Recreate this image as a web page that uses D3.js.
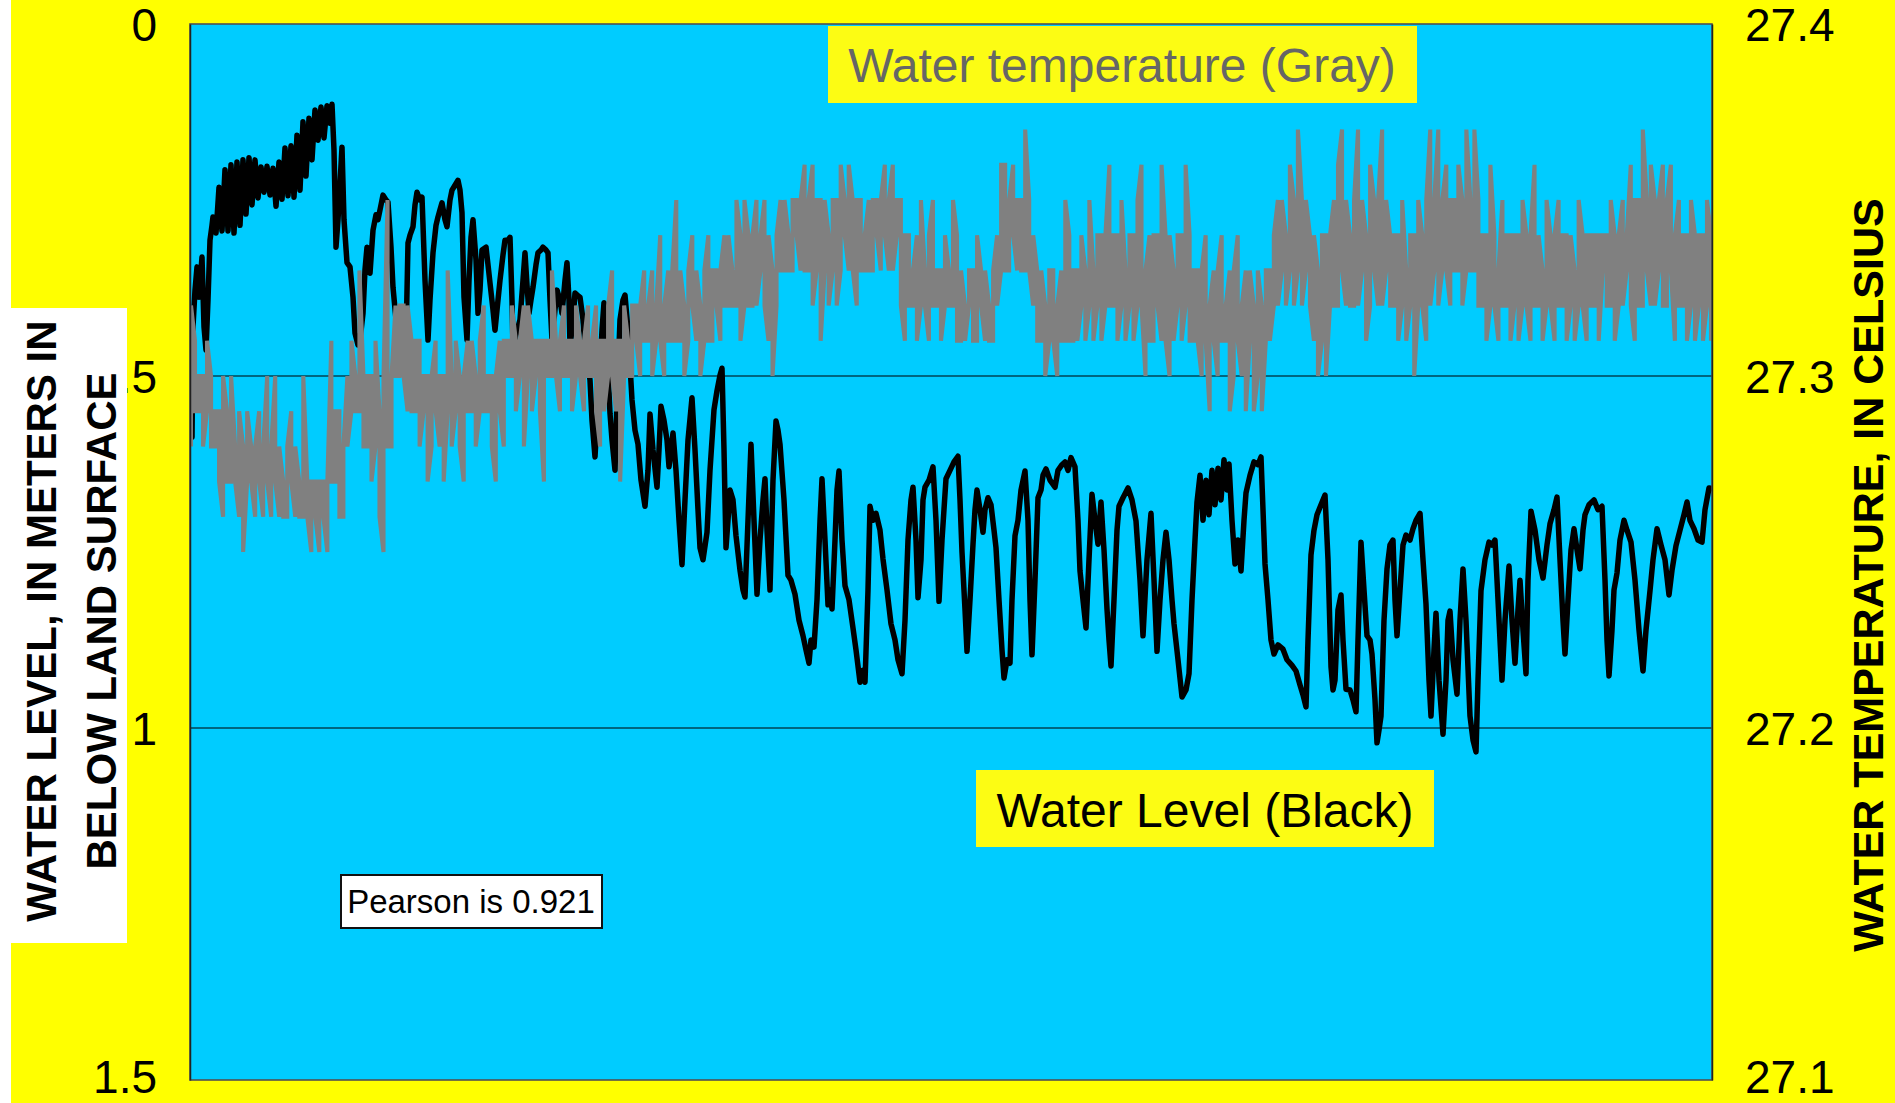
<!DOCTYPE html>
<html><head><meta charset="utf-8">
<script src="https://cdn.jsdelivr.net/npm/d3@7"></script>
<style>html,body{margin:0;padding:0;background:#ffff00;overflow:hidden}</style>
</head><body><svg id="chart" width="1895" height="1103"></svg>
<script>
// ---------- data ----------
const depthTicks = [0, 0.5, 1, 1.5];
const depthTickLabels = ["0", ".5", "1", "1.5"];
const tempTicks = [27.1, 27.2, 27.3, 27.4];
const tempTickLabels = ["27.1", "27.2", "27.3", "27.4"];
const gridDepths = [0.5, 1];
const leftTitle = ["WATER LEVEL, IN METERS IN", "BELOW LAND SURFACE"];
const rightTitle = "WATER TEMPERATURE, IN CELSIUS";
const tempLegend = "Water temperature (Gray)";
const levelLegend = "Water Level (Black)";
const pearsonLabel = "Pearson is 0.921";

// water level: [day of record, metres below land surface]
const waterLevel = [
[0.0,0.577],[0.2,0.587],[0.3,0.430],[0.5,0.378],[0.7,0.345],[0.9,0.388],[1.2,0.331],[1.4,0.430],[1.6,0.463],[1.8,0.392],[2.0,0.307],[2.2,0.286],
[2.3,0.274],[2.6,0.297],[2.9,0.232],[3.2,0.294],[3.5,0.207],[3.8,0.294],[4.1,0.200],[4.4,0.297],[4.7,0.196],[5.0,0.286],[5.3,0.193],[5.6,0.270],
[5.9,0.190],[6.2,0.257],[6.5,0.193],[6.8,0.247],[7.1,0.203],[7.4,0.239],[7.7,0.202],[8.0,0.243],[8.3,0.205],[8.6,0.259],[8.9,0.196],[9.2,0.249],
[9.5,0.176],[9.8,0.244],[10.1,0.173],[10.4,0.246],[10.7,0.158],[11.0,0.236],[11.3,0.139],[11.6,0.216],[11.9,0.134],[12.2,0.193],[12.5,0.122],
[12.8,0.165],[13.1,0.118],[13.4,0.162],[13.7,0.116],[14.0,0.141],[14.2,0.114],[14.4,0.179],[14.6,0.317],[14.8,0.278],[15.2,0.175],[15.4,0.278],
[15.7,0.339],[16.0,0.345],[16.3,0.388],[16.5,0.439],[16.8,0.456],[17.0,0.449],[17.3,0.411],[17.5,0.349],[17.7,0.317],[18.0,0.354],[18.3,0.293],
[18.6,0.271],[18.8,0.278],[19.1,0.257],[19.3,0.243],[19.6,0.250],[19.8,0.253],[20.1,0.317],[20.3,0.374],[20.6,0.420],[21.0,0.449],[21.3,0.456],
[21.6,0.449],[21.8,0.311],[22.0,0.300],[22.3,0.288],[22.5,0.257],[22.7,0.239],[23.0,0.250],[23.2,0.246],[23.5,0.364],[23.8,0.449],[24.0,0.392],
[24.3,0.325],[24.6,0.286],[24.8,0.274],[25.0,0.264],[25.2,0.254],[25.5,0.278],[25.7,0.288],[26.0,0.250],[26.2,0.236],[26.5,0.229],[26.8,0.222],
[27.0,0.236],[27.2,0.268],[27.4,0.388],[27.7,0.449],[27.9,0.364],[28.1,0.303],[28.3,0.278],[28.6,0.335],[28.8,0.411],[29.0,0.378],[29.2,0.321],
[29.6,0.317],[29.8,0.342],[30.0,0.368],[30.3,0.406],[30.5,0.435],[30.8,0.392],[31.0,0.364],[31.3,0.328],[31.5,0.307],[31.8,0.307],[32.0,0.303],
[32.2,0.392],[32.3,0.459],[32.6,0.442],[33.0,0.420],[33.3,0.364],[33.5,0.325],[33.7,0.371],[33.9,0.411],[34.1,0.392],[34.3,0.374],[34.6,0.342],
[34.8,0.325],[35.1,0.321],[35.3,0.317],[35.6,0.321],[35.8,0.325],[36.0,0.392],[36.2,0.449],[36.5,0.406],[36.7,0.378],[37.0,0.392],[37.2,0.411],
[37.5,0.364],[37.7,0.339],[37.9,0.392],[38.0,0.459],[38.3,0.420],[38.5,0.382],[38.8,0.386],[39.0,0.388],[39.3,0.420],[39.5,0.459],[39.8,0.484],
[40.0,0.506],[40.2,0.563],[40.5,0.615],[40.7,0.563],[41.0,0.491],[41.2,0.435],[41.4,0.396],[41.7,0.463],[42.0,0.553],[42.2,0.591],[42.5,0.634],
[42.7,0.534],[43.0,0.420],[43.3,0.392],[43.5,0.385],[43.8,0.435],[44.2,0.534],[44.5,0.577],[44.8,0.597],[45.1,0.648],[45.5,0.685],[45.8,0.634],
[46.0,0.554],[46.3,0.605],[46.7,0.658],[46.9,0.605],[47.1,0.543],[47.4,0.563],[47.7,0.591],[47.9,0.629],[48.1,0.605],[48.3,0.581],[48.6,0.634],
[48.9,0.705],[49.2,0.768],[49.5,0.676],[49.8,0.591],[50.2,0.531],[50.5,0.605],[50.8,0.690],[51.0,0.744],[51.3,0.761],[51.7,0.722],[52.0,0.634],
[52.4,0.548],[52.7,0.521],[53.0,0.499],[53.2,0.489],[53.4,0.605],[53.6,0.744],[53.8,0.705],[54.0,0.662],[54.3,0.676],[54.6,0.727],[55.0,0.776],
[55.3,0.804],[55.5,0.814],[55.8,0.705],[56.1,0.597],[56.4,0.705],[56.7,0.810],[57.0,0.733],[57.3,0.676],[57.5,0.646],[57.7,0.719],[58.0,0.804],
[58.3,0.648],[58.6,0.564],[58.8,0.577],[59.0,0.597],[59.4,0.676],[59.8,0.783],[60.1,0.790],[60.5,0.810],[60.9,0.847],[61.3,0.869],[61.6,0.889],
[61.9,0.908],[62.1,0.875],[62.4,0.885],[62.7,0.818],[63.0,0.706],[63.2,0.646],[63.5,0.733],[63.8,0.825],[64.0,0.804],[64.2,0.831],[64.5,0.733],
[64.7,0.662],[64.9,0.635],[65.2,0.733],[65.5,0.798],[65.9,0.818],[66.3,0.858],[66.6,0.889],[67.0,0.935],[67.3,0.918],[67.5,0.935],[67.8,0.804],
[68.0,0.685],[68.3,0.705],[68.6,0.695],[69.0,0.719],[69.3,0.760],[69.7,0.804],[70.1,0.852],[70.5,0.875],[70.8,0.903],[71.2,0.923],[71.5,0.847],
[71.8,0.733],[72.1,0.676],[72.3,0.658],[72.6,0.733],[72.8,0.815],[73.1,0.761],[73.3,0.676],[73.5,0.658],[73.9,0.648],[74.3,0.629],[74.6,0.705],
[74.9,0.820],[75.2,0.733],[75.6,0.646],[76.0,0.634],[76.4,0.622],[76.8,0.614],[77.0,0.676],[77.2,0.750],[77.5,0.832],[77.7,0.891],[78.0,0.818],
[78.3,0.739],[78.5,0.690],[78.7,0.662],[79.0,0.690],[79.3,0.722],[79.5,0.690],[79.8,0.673],[80.1,0.683],[80.4,0.719],[80.6,0.744],[80.9,0.818],
[81.2,0.889],[81.4,0.929],[81.7,0.903],[82.0,0.908],[82.2,0.818],[82.5,0.727],[82.8,0.705],[83.1,0.662],[83.5,0.635],[83.8,0.705],[84.0,0.818],
[84.2,0.896],[84.5,0.790],[84.8,0.673],[85.1,0.662],[85.3,0.641],[85.6,0.632],[86.0,0.648],[86.5,0.658],[86.8,0.634],[87.2,0.626],[87.5,0.622],
[87.8,0.634],[88.1,0.616],[88.5,0.629],[88.8,0.705],[89.0,0.777],[89.3,0.818],[89.6,0.858],[89.9,0.761],[90.2,0.668],[90.5,0.705],[90.8,0.739],
[91.1,0.679],[91.4,0.747],[91.7,0.831],[91.9,0.875],[92.1,0.912],[92.4,0.818],[92.7,0.719],[92.9,0.685],[93.3,0.673],[93.8,0.659],[94.2,0.676],
[94.6,0.706],[95.0,0.790],[95.3,0.869],[95.7,0.761],[96.1,0.695],[96.4,0.790],[96.7,0.891],[97.0,0.818],[97.3,0.761],[97.6,0.722],[97.9,0.761],
[98.2,0.818],[98.4,0.852],[98.8,0.903],[99.2,0.956],[99.6,0.946],[99.9,0.923],[100.2,0.818],[100.5,0.733],[100.7,0.679],[101.0,0.641],
[101.3,0.705],[101.6,0.648],[101.9,0.697],[102.2,0.634],[102.5,0.683],[102.8,0.631],[103.1,0.676],[103.4,0.619],[103.7,0.662],[103.9,0.625],
[104.2,0.705],[104.5,0.767],[104.8,0.733],[105.1,0.777],[105.4,0.705],[105.6,0.666],[106.0,0.641],[106.4,0.622],[106.8,0.626],[107.1,0.615],
[107.3,0.690],[107.5,0.767],[107.8,0.818],[108.1,0.875],[108.4,0.895],[108.8,0.882],[109.3,0.888],[109.7,0.903],[110.2,0.911],[110.6,0.919],
[111.0,0.939],[111.3,0.953],[111.6,0.970],[111.8,0.875],[112.1,0.754],[112.4,0.719],[112.7,0.697],[113.1,0.683],[113.5,0.669],[113.8,0.761],
[114.1,0.913],[114.3,0.946],[114.5,0.932],[114.8,0.832],[115.1,0.811],[115.3,0.875],[115.6,0.945],[116.0,0.946],[116.3,0.960],[116.6,0.977],
[116.8,0.875],[117.1,0.736],[117.4,0.804],[117.7,0.869],[118.0,0.875],[118.2,0.895],[118.5,0.960],[118.7,1.021],[118.9,1.003],[119.1,0.983],
[119.4,0.847],[119.7,0.774],[120.0,0.740],[120.3,0.733],[120.5,0.818],[120.7,0.869],[121.0,0.804],[121.3,0.740],[121.6,0.726],[122.0,0.733],
[122.3,0.717],[122.6,0.705],[123.0,0.695],[123.3,0.761],[123.6,0.824],[123.9,0.932],[124.1,0.983],[124.4,0.889],[124.6,0.837],[124.9,0.932],
[125.3,1.009],[125.6,0.932],[125.8,0.847],[126.0,0.834],[126.3,0.903],[126.7,0.952],[127.0,0.847],[127.3,0.774],[127.6,0.847],[128.0,0.983],
[128.3,1.017],[128.6,1.034],[128.8,0.932],[129.1,0.805],[129.5,0.761],[129.9,0.736],[130.2,0.740],[130.5,0.733],[130.8,0.818],[131.2,0.932],
[131.5,0.847],[131.9,0.770],[132.2,0.847],[132.5,0.908],[132.8,0.832],[133.0,0.790],[133.3,0.861],[133.6,0.923],[133.8,0.790],[134.1,0.692],
[134.5,0.719],[134.9,0.761],[135.3,0.787],[135.7,0.740],[136.0,0.710],[136.4,0.690],[136.7,0.672],[137.0,0.761],[137.3,0.847],[137.5,0.895],
[137.8,0.818],[138.1,0.747],[138.4,0.717],[138.7,0.747],[139.0,0.774],[139.3,0.719],[139.5,0.697],[139.9,0.683],[140.4,0.676],[140.8,0.690],
[141.2,0.685],[141.5,0.790],[141.7,0.875],[141.9,0.926],[142.2,0.861],[142.4,0.804],[142.7,0.780],[143.0,0.733],[143.4,0.705],[143.7,0.719],
[144.1,0.736],[144.5,0.790],[144.9,0.861],[145.3,0.919],[145.6,0.861],[146.0,0.805],[146.3,0.761],[146.7,0.717],[147.1,0.740],[147.5,0.761],
[147.9,0.811],[148.2,0.776],[148.6,0.741],[149.0,0.719],[149.4,0.697],[149.7,0.679],[150.0,0.705],[150.4,0.717],[150.8,0.733],[151.2,0.736],
[151.5,0.690],[151.9,0.659],[152.2,0.660]
];

// water temperature (deg C): lowest and highest reading in each of 380 equal time steps
const tempLow = [
27.28,27.29,27.29,27.28,27.29,27.28,27.28,27.27,27.26,27.27,
27.27,27.27,27.26,27.25,27.27,27.27,27.26,27.27,27.26,27.27,
27.26,27.27,27.26,27.26,27.26,27.27,27.26,27.26,27.26,27.26,
27.25,27.26,27.25,27.26,27.25,27.27,27.27,27.26,27.26,27.28,
27.29,27.29,27.29,27.28,27.28,27.27,27.28,27.26,27.25,27.28,
27.28,27.30,27.30,27.30,27.29,27.29,27.29,27.28,27.29,27.27,
27.28,27.29,27.28,27.27,27.29,27.28,27.29,27.28,27.27,27.29,
27.29,27.28,27.29,27.29,27.29,27.28,27.27,27.29,27.28,27.30,
27.30,27.29,27.30,27.28,27.30,27.29,27.30,27.29,27.27,27.30,
27.30,27.30,27.29,27.30,27.30,27.29,27.30,27.30,27.29,27.30,
27.30,27.29,27.28,27.29,27.30,27.30,27.29,27.27,27.30,27.30,
27.30,27.31,27.30,27.31,27.31,27.30,27.31,27.31,27.30,27.31,
27.31,27.31,27.31,27.30,27.31,27.32,27.31,27.30,27.31,27.31,
27.31,27.32,27.31,27.32,27.32,27.32,27.32,27.31,27.32,27.32,
27.32,27.32,27.33,27.32,27.31,27.30,27.32,27.33,27.33,27.33,
27.33,27.34,27.33,27.33,27.33,27.32,27.33,27.31,27.33,27.32,
27.33,27.32,27.33,27.34,27.33,27.33,27.32,27.33,27.33,27.33,
27.33,27.34,27.33,27.34,27.33,27.33,27.34,27.32,27.31,27.32,
27.32,27.31,27.32,27.32,27.31,27.32,27.32,27.31,27.32,27.32,
27.32,27.31,27.31,27.31,27.32,27.31,27.31,27.32,27.31,27.31,
27.31,27.32,27.33,27.33,27.33,27.34,27.33,27.33,27.33,27.33,
27.32,27.31,27.31,27.30,27.31,27.31,27.30,27.31,27.31,27.31,
27.31,27.31,27.32,27.31,27.32,27.31,27.32,27.31,27.32,27.32,
27.32,27.31,27.32,27.31,27.32,27.31,27.32,27.32,27.30,27.31,
27.31,27.32,27.31,27.31,27.30,27.31,27.32,27.31,27.32,27.31,
27.31,27.31,27.30,27.31,27.29,27.31,27.30,27.31,27.31,27.29,
27.30,27.31,27.30,27.29,27.31,27.29,27.30,27.29,27.31,27.31,
27.32,27.32,27.33,27.32,27.33,27.32,27.33,27.32,27.33,27.32,
27.31,27.30,27.31,27.30,27.32,27.32,27.32,27.33,27.32,27.32,
27.32,27.32,27.33,27.31,27.32,27.33,27.32,27.32,27.33,27.32,
27.32,27.31,27.32,27.31,27.32,27.30,27.32,27.32,27.31,27.32,
27.33,27.32,27.33,27.33,27.32,27.33,27.33,27.32,27.33,27.33,
27.33,27.32,27.32,27.31,27.32,27.32,27.31,27.32,27.32,27.31,
27.32,27.31,27.32,27.32,27.31,27.32,27.32,27.31,27.32,27.32,
27.31,27.32,27.32,27.31,27.32,27.31,27.32,27.32,27.31,27.32,
27.32,27.31,27.33,27.32,27.32,27.31,27.32,27.32,27.33,27.32,
27.31,27.32,27.32,27.33,27.32,27.32,27.33,27.32,27.32,27.33,
27.31,27.32,27.32,27.31,27.32,27.31,27.32,27.31,27.32,27.31
];
const tempHigh = [
27.32,27.31,27.30,27.30,27.31,27.30,27.29,27.29,27.30,27.29,
27.30,27.28,27.29,27.28,27.29,27.28,27.28,27.29,27.28,27.30,
27.28,27.30,27.28,27.27,27.28,27.29,27.28,27.27,27.30,27.27,
27.27,27.27,27.27,27.27,27.27,27.31,27.29,27.29,27.28,27.30,
27.31,27.30,27.33,27.30,27.30,27.30,27.31,27.29,27.30,27.35,
27.30,27.32,27.32,27.32,27.32,27.31,27.31,27.31,27.30,27.30,
27.30,27.31,27.30,27.30,27.33,27.30,27.31,27.30,27.30,27.31,
27.31,27.30,27.31,27.32,27.30,27.30,27.30,27.31,27.31,27.31,
27.32,27.31,27.31,27.32,27.32,27.31,27.31,27.31,27.31,27.31,
27.33,27.31,27.31,27.32,27.31,27.31,27.32,27.31,27.31,27.32,
27.31,27.32,27.31,27.31,27.32,27.33,27.31,27.31,27.32,27.31,
27.32,27.32,27.32,27.33,27.32,27.33,27.32,27.34,27.32,27.33,
27.33,27.35,27.33,27.32,27.33,27.34,27.33,27.32,27.33,27.34,
27.33,27.33,27.33,27.34,27.34,27.33,27.35,27.34,27.35,27.34,
27.34,27.35,27.34,27.35,27.34,27.33,27.34,27.35,27.35,27.34,
27.35,27.35,27.35,27.36,27.35,27.36,27.35,27.35,27.35,27.34,
27.35,27.35,27.36,27.35,27.36,27.35,27.35,27.35,27.34,27.35,
27.35,27.35,27.35,27.36,27.35,27.36,27.35,27.35,27.34,27.34,
27.33,27.34,27.35,27.33,27.34,27.35,27.33,27.33,27.34,27.33,
27.35,27.34,27.33,27.32,27.33,27.33,27.34,27.33,27.33,27.32,
27.33,27.34,27.36,27.36,27.35,27.36,27.35,27.35,27.37,27.35,
27.34,27.33,27.33,27.32,27.33,27.33,27.32,27.33,27.35,27.34,
27.33,27.33,27.34,27.33,27.35,27.33,27.34,27.34,27.34,27.36,
27.34,27.34,27.35,27.33,27.34,27.34,27.35,27.36,27.33,27.34,
27.34,27.34,27.36,27.34,27.34,27.33,27.34,27.34,27.36,27.34,
27.33,27.33,27.33,27.34,27.32,27.33,27.33,27.34,27.32,27.33,
27.33,27.34,27.32,27.33,27.33,27.32,27.33,27.32,27.33,27.33,
27.34,27.35,27.35,27.34,27.36,27.35,27.37,27.35,27.35,27.34,
27.34,27.33,27.34,27.34,27.34,27.35,27.36,27.37,27.35,27.34,
27.35,27.37,27.35,27.34,27.36,27.35,27.35,27.37,27.35,27.34,
27.34,27.34,27.35,27.33,27.34,27.34,27.35,27.34,27.35,27.37,
27.35,27.37,27.35,27.36,27.35,27.35,27.36,27.35,27.37,27.35,
27.37,27.35,27.34,27.34,27.36,27.34,27.33,27.35,27.34,27.34,
27.34,27.34,27.35,27.34,27.34,27.36,27.34,27.33,27.35,27.34,
27.34,27.35,27.34,27.34,27.34,27.33,27.35,27.34,27.34,27.34,
27.34,27.34,27.34,27.34,27.35,27.34,27.34,27.35,27.34,27.36,
27.35,27.35,27.37,27.35,27.36,27.35,27.35,27.36,27.35,27.36,
27.34,27.35,27.34,27.34,27.35,27.34,27.34,27.34,27.35,27.34
];

// ---------- drawing ----------
const W = 1895, H = 1103;
const plot = {left: 190, right: 1712, top: 24, bottom: 1080};
const FONT = "'Liberation Sans', Arial, Helvetica, sans-serif";

const svg = d3.select("#chart");
svg.append("rect").attr("width", W).attr("height", H).attr("fill", "#ffff00");
svg.append("rect").attr("x", 0).attr("y", 0).attr("width", 11).attr("height", H).attr("fill", "#ffffff");

const xDay = d3.scaleLinear().domain([0, d3.max(waterLevel, d => d[0])]).range([plot.left, plot.right]);
const xStep = d3.scaleLinear().domain([0, tempLow.length - 1]).range([plot.left + 1, plot.right - 1]);
const yDepth = d3.scaleLinear().domain([0, 1.5]).range([plot.top, plot.bottom]);
const yTemp = d3.scaleLinear().domain([27.1, 27.4]).range([plot.bottom, plot.top]);

svg.append("defs").append("clipPath").attr("id", "clip")
  .append("rect").attr("x", plot.left).attr("y", plot.top)
  .attr("width", plot.right - plot.left).attr("height", plot.bottom - plot.top);

// plot area
svg.append("rect").attr("x", plot.left).attr("y", plot.top)
  .attr("width", plot.right - plot.left).attr("height", plot.bottom - plot.top)
  .attr("fill", "#00ccff");

// gridlines
svg.append("g").selectAll("line").data(gridDepths).join("line")
  .attr("x1", plot.left).attr("x2", plot.right)
  .attr("y1", d => yDepth(d)).attr("y2", d => yDepth(d))
  .attr("stroke", "#000").attr("stroke-width", 1);

const lines = svg.append("g").attr("clip-path", "url(#clip)");

// water level (black)
lines.append("path").datum(waterLevel)
  .attr("fill", "none").attr("stroke", "#000").attr("stroke-width", 5.5)
  .attr("stroke-linejoin", "round").attr("stroke-linecap", "round")
  .attr("d", d3.line().x(d => xDay(d[0])).y(d => yDepth(d[1])));

// water temperature (gray): the readings in each step, traced low->high / high->low
const tempTrace = [];
tempLow.forEach((lo, i) => {
  const hi = tempHigh[i];
  if (i % 2 === 0) { tempTrace.push([i, lo], [i, hi]); }
  else { tempTrace.push([i, hi], [i, lo]); }
});
lines.append("path").datum(tempTrace)
  .attr("fill", "none").attr("stroke", "#808080").attr("stroke-width", 4.1)
  .attr("stroke-linejoin", "miter")
  .attr("d", d3.line().x(d => xStep(d[0])).y(d => yTemp(d[1])));

// plot border
svg.append("rect").attr("x", plot.left).attr("y", plot.top)
  .attr("width", plot.right - plot.left).attr("height", plot.bottom - plot.top)
  .attr("fill", "none").attr("stroke", "#505050").attr("stroke-width", 1.6);

// axes
const leftAxis = svg.append("g").attr("transform", `translate(${plot.left},0)`)
  .call(d3.axisLeft(yDepth).tickValues(depthTicks)
    .tickFormat((d, i) => depthTickLabels[i]).tickSize(0).tickPadding(33));
const rightAxis = svg.append("g").attr("transform", `translate(${plot.right},0)`)
  .call(d3.axisRight(yTemp).tickValues(tempTicks)
    .tickFormat((d, i) => tempTickLabels[i]).tickSize(0).tickPadding(33));
[leftAxis, rightAxis].forEach(a => {
  a.attr("font-family", FONT).attr("font-size", 46);
  a.select(".domain").attr("stroke", "#222").attr("stroke-width", 1.5);
  a.selectAll("text").attr("fill", "#000")
    .attr("dy", (d, i, n) => (i === n.length - 1 && a === leftAxis) || (i === 0 && a === rightAxis) ? "0.27em" : "0.36em");
});

// left title box and title
svg.append("rect").attr("x", 11).attr("y", 308).attr("width", 116).attr("height", 635).attr("fill", "#ffffff");
svg.append("g").selectAll("text").data(leftTitle).join("text")
  .attr("transform", (d, i) => `translate(${56 + i * 60},621) rotate(-90)`)
  .attr("text-anchor", "middle").attr("font-family", FONT).attr("font-weight", "bold")
  .attr("font-size", 42).attr("fill", "#000").text(d => d);

// right title
svg.append("text").attr("transform", "translate(1883,575) rotate(-90)")
  .attr("text-anchor", "middle").attr("font-family", FONT).attr("font-weight", "bold")
  .attr("font-size", 43).attr("fill", "#000").text(rightTitle);

// legend labels
svg.append("rect").attr("x", 828).attr("y", 26).attr("width", 589).attr("height", 77).attr("fill", "#fcfc14");
svg.append("text").attr("x", 1122).attr("y", 82).attr("text-anchor", "middle")
  .attr("font-family", FONT).attr("font-size", 48).attr("fill", "#666666").text(tempLegend);

svg.append("rect").attr("x", 976).attr("y", 770).attr("width", 458).attr("height", 77).attr("fill", "#fcfc14");
svg.append("text").attr("x", 1205).attr("y", 827).attr("text-anchor", "middle")
  .attr("font-family", FONT).attr("font-size", 48).attr("fill", "#000").text(levelLegend);

// Pearson note
svg.append("rect").attr("x", 341).attr("y", 875).attr("width", 261).attr("height", 53)
  .attr("fill", "#ffffff").attr("stroke", "#111").attr("stroke-width", 2);
svg.append("text").attr("x", 471).attr("y", 913).attr("text-anchor", "middle")
  .attr("font-family", FONT).attr("font-size", 33).attr("fill", "#000").text(pearsonLabel);
</script>
</body></html>
